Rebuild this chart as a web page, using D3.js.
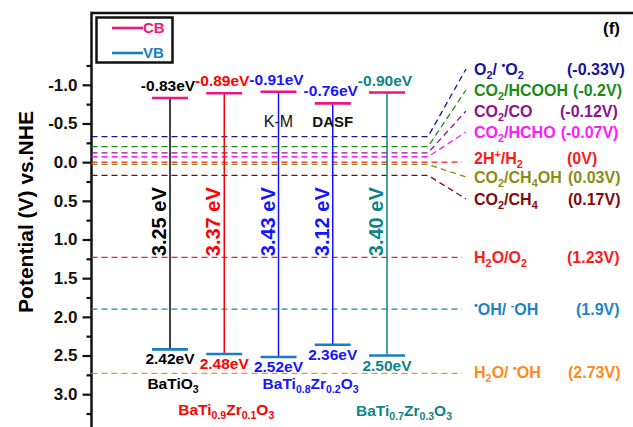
<!DOCTYPE html>
<html>
<head>
<meta charset="utf-8">
<script src="https://cdn.jsdelivr.net/npm/d3@7"></script>
<style>
    body { margin: 0; background: #fff; }
    text { font-family: "Liberation Sans", Arial, sans-serif; }
</style>
</head>
<body>
<div id="container"></div>
<script>
// band edges (V vs NHE)
var samples = ["BaTiO3", "BaTi0.9Zr0.1O3", "BaTi0.8Zr0.2O3 K-M", "BaTi0.8Zr0.2O3 DASF", "BaTi0.7Zr0.3O3"];
var cbEdge = [-0.83, -0.89, -0.91, -0.76, -0.90];
var vbEdge = [2.42, 2.48, 2.52, 2.36, 2.50];
var methodLabels = ["", "", "K-M", "DASF", ""];

var compoundNames = ["BaTi{O}_{3}", "BaTi_{0.9}Zr_{0.1}O_{3}", "BaTi_{0.8}Zr_{0.2}O_{3}", "BaTi_{0.7}Zr_{0.3}O_{3}"];
var compoundColumns = [[0], [1], [2, 3], [4]];

// redox potentials
var redoxNames = ["O_{2}/ ^{•}O_{2}", "CO_{2}/HCOOH", "CO_{2}/CO", "CO_{2}/HCHO", "2H^{+}/H_{2}",
    "CO_{2}/CH_{4}OH", "CO_{2}/CH_{4}", "H_{2}O/O_{2}", "^{•}OH/ ^{-}OH", "H_{2}O/ ^{•}OH"];
var redoxPotentials = [-0.33, -0.2, -0.12, -0.07, 0, 0.03, 0.17, 1.23, 1.9, 2.73];

var yTickValues = [-1.0, -0.5, 0.0, 0.5, 1.0, 1.5, 2.0, 2.5, 3.0];

// styling / layout
var sampleColors = ["#000000", "#ff0000", "#1515ff", "#1515ff", "#0b8585"];
var compoundColors = ["#000000", "#ff0000", "#1515ff", "#0b8585"];
var compoundDx = [3, 2, 5, 17],
    compoundBase = [389, 415, 389, 416];
var redoxColors = ["#15159a", "#1a8a1a", "#8a158a", "#ff1aff", "#ff1a1a",
    "#8c8c14", "#7f0b0b", "#ff1a1a", "#1f84c4", "#ff8a1f"];
var labelBase = [75, 96, 117, 138, 164, 183, 205, 263, 315, 378],
    fanned = [true, true, true, true, false, true, true, false, false, false],
    valueX = [567, 567, 560, 553, 567, 568, 568, 567, 576, 568];
var cbColor = "#f0157e", vbColor = "#1b7dc1";

var W = 633, H = 427, axisX = 91.5, frameTop = 13;

var svg = d3.select("#container").append("svg")
    .attr("width", W)
    .attr("height", H);

var y = d3.scaleLinear().domain([-1, 3]).range([84.8, 394.2]);
var x = d3.scalePoint().domain(samples).range([170, 387]);

// text with _{sub} and ^{sup} markup
function rich(sel, str, size) {
    var parts = str.split(/(_\{[^}]*\}|\^\{[^}]*\}|\{[^}]*\})/).filter(function(p) { return p.length; });
    var shift = 0;
    parts.forEach(function(p) {
        var target = 0, txt = p, small = false;
        if (p[0] === "_") { target = size * 0.28; txt = p.slice(2, -1); small = true; }
        else if (p[0] === "^") { target = -size * 0.38; txt = p.slice(2, -1); small = true; }
        else if (p[0] === "{") { txt = p.slice(1, -1); }
        var t = sel.append("tspan").text(txt);
        if (small) t.style("font-size", (size * 0.68) + "px");
        if (target - shift !== 0) t.attr("dy", target - shift);
        shift = target;
    });
    return sel;
}

// frame
svg.append("line")
    .attr("x1", axisX).attr("x2", W)
    .attr("y1", frameTop).attr("y2", frameTop)
    .attr("stroke", "#111").attr("stroke-width", 2.5);
svg.append("line")
    .attr("x1", axisX).attr("x2", axisX)
    .attr("y1", frameTop - 1.2).attr("y2", H)
    .attr("stroke", "#111").attr("stroke-width", 2.5);

// y axis
var yAxis = svg.append("g")
    .attr("transform", "translate(" + axisX + ",0)")
    .call(d3.axisLeft(y).tickValues(yTickValues).tickSize(9).tickPadding(5)
        .tickFormat(function(d) { return d.toFixed(1); }));
yAxis.select(".domain").remove();
yAxis.selectAll("line").attr("stroke", "#111").attr("stroke-width", 2.2);
yAxis.selectAll("text")
    .attr("fill", "#111")
    .style("font-size", "17px")
    .style("font-weight", "bold")
    .style("font-family", "'Liberation Sans', Arial, sans-serif");

var yMinor = svg.append("g")
    .attr("transform", "translate(" + axisX + ",0)")
    .call(d3.axisLeft(y).tickValues(d3.range(-1.25, 3.3, 0.5)).tickSize(5).tickFormat(""));
yMinor.select(".domain").remove();
yMinor.selectAll("line").attr("stroke", "#111").attr("stroke-width", 2.2);

svg.append("text")
    .attr("transform", "translate(33,212)rotate(-90)")
    .attr("text-anchor", "middle")
    .style("font-size", "21px")
    .style("font-weight", "bold")
    .text("Potential (V) vs.NHE");

svg.append("text")
    .attr("x", 620).attr("y", 34)
    .attr("text-anchor", "end")
    .style("font-size", "17px")
    .style("font-weight", "bold")
    .text("(f)");

// redox levels
var kinkX = 428, fanEndX = 466, straightEndX = 462, nameX = 474;
var redox = svg.append("g").attr("class", "redox");
redoxPotentials.forEach(function(v, i) {
    var yy = y(v), pts;
    if (fanned[i]) {
        pts = [[axisX, yy], [kinkX, yy], [fanEndX, labelBase[i] - 6]];
    } else {
        pts = [[axisX, yy], [straightEndX, yy]];
    }
    redox.append("path")
        .attr("d", d3.line()(pts))
        .attr("fill", "none")
        .attr("stroke", redoxColors[i])
        .attr("stroke-width", 1.3)
        .attr("stroke-dasharray", "6,4");

    var name = redox.append("text")
        .attr("x", nameX).attr("y", labelBase[i])
        .attr("fill", redoxColors[i])
        .style("font-size", "16px")
        .style("font-weight", "bold");
    rich(name, redoxNames[i], 16);
    var nameEnd = nameX + name.node().getComputedTextLength();
    redox.append("text")
        .attr("x", Math.max(valueX[i], nameEnd + 5)).attr("y", labelBase[i])
        .attr("fill", redoxColors[i])
        .style("font-size", "16px")
        .style("font-weight", "bold")
        .text("(" + v + "V)");
});

// band columns
var half = 18;
var cols = svg.selectAll("g.col")
    .data(samples)
    .enter().append("g")
    .attr("class", "col");

cols.append("line")
    .attr("x1", function(d) { return x(d); })
    .attr("x2", function(d) { return x(d); })
    .attr("y1", function(d, i) { return y(cbEdge[i]); })
    .attr("y2", function(d, i) { return y(vbEdge[i]); })
    .attr("stroke", function(d, i) { return sampleColors[i]; })
    .attr("stroke-width", 1.5);

cols.append("line")
    .attr("x1", function(d) { return x(d) - half; })
    .attr("x2", function(d) { return x(d) + half; })
    .attr("y1", function(d, i) { return y(cbEdge[i]); })
    .attr("y2", function(d, i) { return y(cbEdge[i]); })
    .attr("stroke", cbColor)
    .attr("stroke-width", 2.6);

cols.append("line")
    .attr("x1", function(d) { return x(d) - half; })
    .attr("x2", function(d) { return x(d) + half; })
    .attr("y1", function(d, i) { return y(vbEdge[i]); })
    .attr("y2", function(d, i) { return y(vbEdge[i]); })
    .attr("stroke", vbColor)
    .attr("stroke-width", 2.6);

cols.append("text")
    .attr("x", function(d) { return x(d) - 2; })
    .attr("y", function(d, i) { return y(cbEdge[i]) - 7; })
    .attr("text-anchor", "middle")
    .attr("fill", function(d, i) { return sampleColors[i]; })
    .style("font-size", "15.5px")
    .style("font-weight", "bold")
    .text(function(d, i) { return cbEdge[i].toFixed(2) + "eV"; });

cols.append("text")
    .attr("x", function(d) { return x(d); })
    .attr("y", function(d, i) { return y(vbEdge[i]) + 15; })
    .attr("text-anchor", "middle")
    .attr("fill", function(d, i) { return sampleColors[i]; })
    .style("font-size", "15.5px")
    .style("font-weight", "bold")
    .text(function(d, i) { return vbEdge[i].toFixed(2) + "eV"; });

// band gap, rotated along each column
cols.append("text")
    .attr("transform", function(d) { return "translate(" + (x(d) - 4) + "," + y(0.77) + ")rotate(-90)"; })
    .attr("text-anchor", "middle")
    .attr("fill", function(d, i) { return sampleColors[i]; })
    .style("font-size", "20px")
    .style("font-weight", "bold")
    .text(function(d, i) { return (vbEdge[i] - cbEdge[i]).toFixed(2) + " eV"; });

cols.append("text")
    .attr("x", function(d) { return x(d); })
    .attr("y", y(-0.45))
    .attr("text-anchor", "middle")
    .attr("fill", "#111")
    .style("font-size", function(d, i) { return i === 3 ? "15px" : "16px"; })
    .style("font-weight", function(d, i) { return i === 3 ? "bold" : "normal"; })
    .text(function(d, i) { return methodLabels[i]; });

// compound names under the columns
compoundNames.forEach(function(n, i) {
    var cx = d3.mean(compoundColumns[i], function(c) { return x(samples[c]); }) + compoundDx[i];
    var t = svg.append("text")
        .attr("x", cx).attr("y", compoundBase[i])
        .attr("text-anchor", "middle")
        .attr("fill", compoundColors[i])
        .style("font-size", "15.5px")
        .style("font-weight", "bold");
    rich(t, n, 15.5);
});

// legend
var legend = svg.append("g").attr("class", "legend");
legend.append("rect")
    .attr("x", 96.5).attr("y", 17.5)
    .attr("width", 76).attr("height", 45)
    .attr("fill", "#fff")
    .attr("stroke", "#111")
    .attr("stroke-width", 2.5);
[["CB", cbColor, 28], ["VB", vbColor, 53]].forEach(function(l) {
    legend.append("line")
        .attr("x1", 112).attr("x2", 143)
        .attr("y1", l[2]).attr("y2", l[2])
        .attr("stroke", l[1]).attr("stroke-width", 2.6);
    legend.append("text")
        .attr("x", 143).attr("y", l[2] + 5)
        .attr("fill", l[1])
        .style("font-size", "15px")
        .style("font-weight", "bold")
        .text(l[0]);
});
</script>
</body>
</html>
